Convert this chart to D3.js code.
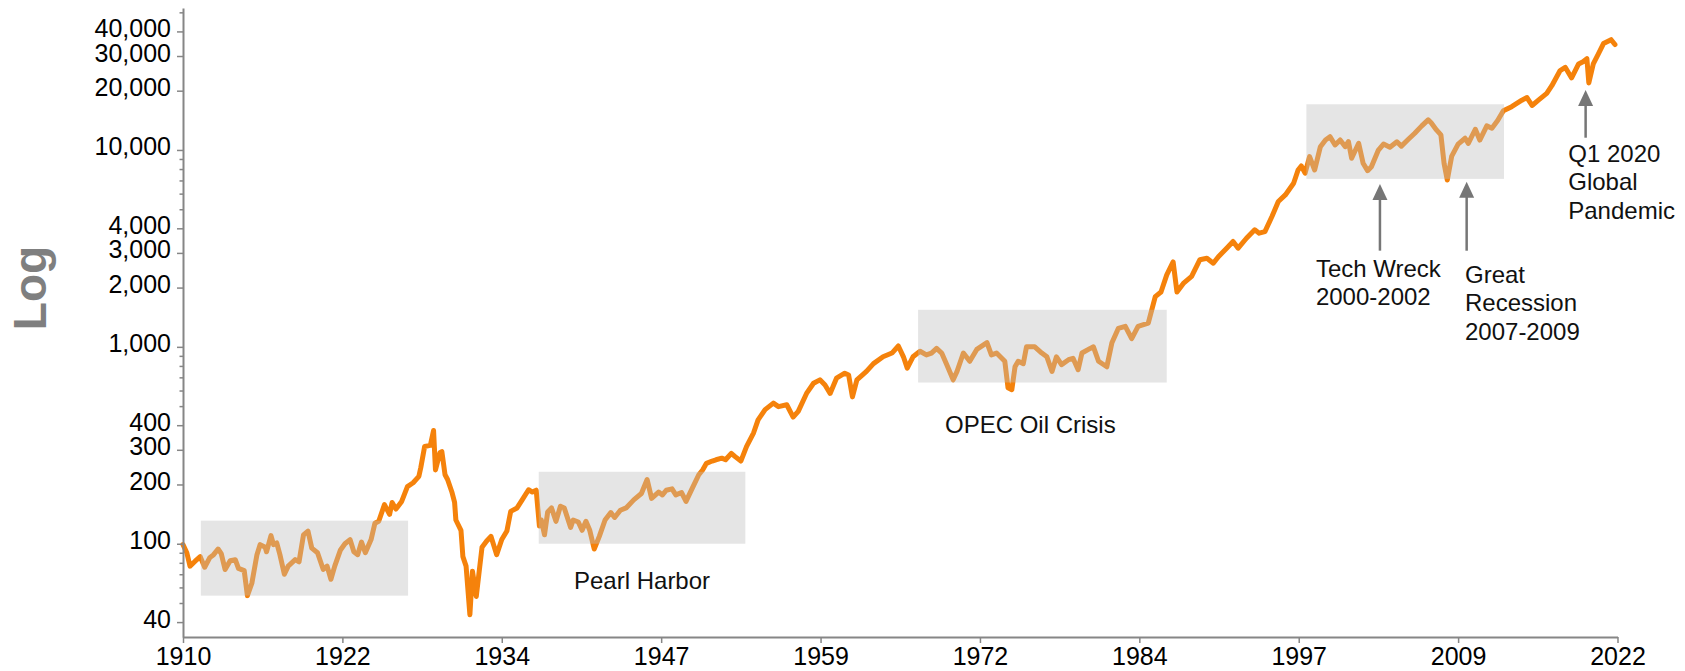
<!DOCTYPE html>
<html>
<head>
<meta charset="utf-8">
<script src="https://cdn.jsdelivr.net/npm/d3@7"></script>
<style>
  html, body { margin: 0; padding: 0; background: #fff; }
  svg { display: block; font-family: "Liberation Sans", Arial, sans-serif; }
</style>
</head>
<body>
<svg id="chart" width="1685" height="671"></svg>
<script>
// index level, [decimal year, value]
const series = [
  [1910.0, 99], [1910.3, 90], [1910.55, 77], [1910.95, 81.5], [1911.35, 86], [1911.7, 76],
  [1912.1, 85], [1912.4, 88], [1912.75, 94], [1913.0, 89], [1913.3, 74], [1913.7, 82],
  [1914.1, 83], [1914.35, 75], [1914.8, 73], [1915.05, 54.5], [1915.4, 63], [1915.8, 88],
  [1916.05, 99], [1916.45, 96], [1916.55, 91], [1916.9, 110], [1917.1, 99], [1917.35, 101],
  [1917.6, 88], [1917.95, 70], [1918.25, 77], [1918.8, 83], [1919.1, 81], [1919.45, 111],
  [1919.8, 116], [1920.1, 95], [1920.55, 90], [1921.0, 74], [1921.3, 77], [1921.6, 66],
  [1921.9, 77], [1922.35, 93], [1922.7, 100], [1923.1, 105], [1923.4, 91], [1923.7, 88],
  [1924.0, 102], [1924.3, 90], [1924.75, 105], [1925.05, 127], [1925.35, 130], [1925.8, 158],
  [1926.2, 141], [1926.4, 162], [1926.7, 150], [1927.15, 164], [1927.6, 195], [1928.05, 204],
  [1928.5, 220], [1928.65, 244], [1928.95, 312], [1929.4, 316], [1929.65, 376], [1929.8, 237],
  [1930.15, 290], [1930.3, 294], [1930.55, 224], [1930.75, 212], [1931.1, 182], [1931.3, 162],
  [1931.4, 132], [1931.8, 117], [1931.95, 86], [1932.2, 77], [1932.5, 43.6], [1932.7, 72.5],
  [1933.0, 54], [1933.45, 96], [1933.8, 103], [1934.15, 109], [1934.6, 88], [1935.0, 105],
  [1935.4, 116], [1935.7, 146], [1936.2, 152], [1936.6, 167], [1937.1, 188], [1937.4, 183],
  [1937.7, 187], [1937.95, 123], [1938.1, 132], [1938.35, 111], [1938.6, 145], [1938.9, 152],
  [1939.25, 130], [1939.6, 155], [1939.9, 152], [1940.4, 121], [1940.6, 132], [1941.0, 129],
  [1941.3, 117], [1941.6, 130], [1941.9, 117], [1942.25, 94], [1942.65, 109], [1943.1, 132],
  [1943.55, 144], [1943.85, 136], [1944.3, 148], [1944.75, 152], [1945.35, 167], [1945.95, 180],
  [1946.4, 212], [1946.75, 170], [1947.3, 183], [1947.6, 177], [1947.9, 187], [1948.35, 190],
  [1948.65, 177], [1949.1, 182], [1949.45, 164], [1950.0, 195], [1950.45, 224], [1950.75, 237],
  [1951.05, 256], [1951.5, 263], [1951.8, 267], [1952.25, 272], [1952.55, 267], [1953.0, 288],
  [1953.3, 277], [1953.75, 263], [1954.2, 312], [1954.75, 366], [1955.1, 426], [1955.65, 480],
  [1956.3, 518], [1956.7, 497], [1957.35, 508], [1957.85, 440], [1958.25, 470], [1958.9, 580],
  [1959.45, 653], [1959.95, 680], [1960.35, 640], [1960.75, 580], [1961.25, 693], [1961.9, 735],
  [1962.2, 720], [1962.5, 557], [1962.85, 680], [1963.6, 750], [1964.15, 822], [1964.9, 890],
  [1965.6, 930], [1966.1, 1010], [1966.5, 890], [1966.8, 780], [1967.25, 890], [1967.8, 950],
  [1968.3, 910], [1968.7, 930], [1969.1, 982], [1969.5, 930], [1969.9, 812], [1970.4, 680],
  [1970.7, 750], [1971.2, 930], [1971.7, 845], [1972.25, 970], [1973.05, 1050], [1973.4, 910],
  [1973.8, 930], [1974.45, 845], [1974.7, 620], [1975.0, 606], [1975.25, 792], [1975.5, 845],
  [1975.9, 822], [1976.15, 1000], [1976.8, 1000], [1977.35, 930], [1977.75, 890], [1978.15, 750],
  [1978.5, 890], [1978.9, 812], [1979.45, 860], [1979.8, 875], [1980.2, 765], [1980.5, 930],
  [1981.15, 982], [1981.4, 1000], [1981.8, 845], [1982.45, 792], [1982.85, 1050], [1983.35, 1240],
  [1983.9, 1270], [1984.4, 1100], [1984.9, 1270], [1985.7, 1320], [1986.25, 1800], [1986.7, 1900],
  [1987.15, 2320], [1987.65, 2700], [1987.95, 1900], [1988.45, 2100], [1989.1, 2280], [1989.75, 2770],
  [1990.3, 2820], [1990.8, 2660], [1991.2, 2870], [1991.85, 3170], [1992.35, 3430], [1992.75, 3170],
  [1993.4, 3560], [1994.05, 3930], [1994.4, 3780], [1994.85, 3850], [1995.4, 4590], [1995.9, 5470],
  [1996.45, 5910], [1997.1, 6770], [1997.45, 7910], [1997.7, 8290], [1998.0, 7620], [1998.35, 9250],
  [1998.75, 7910], [1999.2, 10390], [1999.6, 11240], [1999.95, 11680], [2000.35, 10600], [2000.75, 11240],
  [2001.15, 10390], [2001.4, 11020], [2001.65, 9070], [2002.2, 10810], [2002.55, 8560], [2002.9, 7850],
  [2003.2, 8220], [2003.75, 9990], [2004.15, 10720], [2004.65, 10330], [2005.2, 11010], [2005.55, 10460],
  [2006.1, 11330], [2006.6, 12160], [2007.15, 13250], [2007.65, 14220], [2007.9, 13690], [2008.3, 12640],
  [2008.65, 11930], [2008.9, 8540], [2009.15, 7040], [2009.5, 9310], [2010.0, 10710], [2010.55, 11470],
  [2010.8, 10800], [2011.35, 12740], [2011.7, 11230], [2012.25, 13250], [2012.65, 12900], [2013.1, 14100],
  [2013.55, 15800], [2014.2, 16590], [2015.0, 17900], [2015.4, 18460], [2015.8, 16820], [2016.3, 17900],
  [2016.95, 19380], [2017.35, 21200], [2018.0, 25320], [2018.4, 26280], [2018.9, 23220], [2019.45, 27330],
  [2019.8, 28070], [2020.1, 29100], [2020.25, 21900], [2020.6, 27330], [2021.0, 30750], [2021.4, 34700],
  [2022.0, 36310], [2022.3, 34300]
];

const xTickLabels = ["1910", "1922", "1934", "1947", "1959", "1972", "1984", "1997", "2009", "2022"];
const yTickValues = [40, 100, 200, 300, 400, 1000, 2000, 3000, 4000, 10000, 20000, 30000, 40000];
const yMinorValues = [50, 60, 70, 80, 90, 500, 600, 700, 800, 900, 5000, 6000, 7000, 8000, 9000, 50000];

// shaded periods: years and value band
const highlights = [
  {from: 1911.4, to: 1927.65, lo: 54.5, hi: 131},
  {from: 1937.9, to: 1954.1, lo: 100, hi: 232},
  {from: 1967.65, to: 1987.15, lo: 659, hi: 1542},
  {from: 1998.1, to: 2013.6, lo: 7130, hi: 17060}
];

const notes = [
  {lines: ["Pearl Harbor"], year: 1946.0, value: 59, anchor: "middle"},
  {lines: ["OPEC Oil Crisis"], year: 1976.45, value: 366, anchor: "middle"},
  {lines: ["Tech Wreck", "2000-2002"], year: 1998.85, value: 2271, anchor: "start"},
  {lines: ["Great", "Recession", "2007-2009"], year: 2010.54, value: 2117, anchor: "start"},
  {lines: ["Q1 2020", "Global", "Pandemic"], year: 2018.64, value: 8714, anchor: "start"}
];

const arrows = [
  {year: 2003.87, tip: 6714, tail: 3080},
  {year: 2010.67, tip: 6896, tail: 3078},
  {year: 2020.0, tip: 20150, tail: 11540}
];

const W = 1685, H = 671;
const margin = {top: 8, right: 67.5, bottom: 34, left: 183};
const xDomain = [1910, 2022.5];
const yDomain = [33.6, 52600];

const svg = d3.select("#chart");

const x = d3.scaleLinear().domain(xDomain).range([margin.left, W - margin.right]);
const y = d3.scaleLog().domain(yDomain).range([H - margin.bottom, margin.top]);

drawLine(svg);
drawHighlights(svg);
drawNotes(svg);
drawArrows(svg);
drawAxes(svg);

function drawLine(g) {
  g.append("path")
    .datum(series)
    .attr("fill", "none")
    .attr("stroke", "#f5820b")
    .attr("stroke-width", 5)
    .attr("stroke-linejoin", "round")
    .attr("stroke-linecap", "round")
    .attr("d", d3.line().x(d => x(d[0])).y(d => y(d[1])));
}

function drawHighlights(g) {
  g.append("g")
    .selectAll("rect")
    .data(highlights)
    .join("rect")
    .attr("x", d => x(d.from))
    .attr("y", d => y(d.hi))
    .attr("width", d => x(d.to) - x(d.from))
    .attr("height", d => y(d.lo) - y(d.hi))
    .attr("fill", "#bdbdbd")
    .attr("fill-opacity", 0.4);
}

function drawNotes(g) {
  g.append("g")
    .selectAll("text")
    .data(notes)
    .join("text")
    .attr("x", d => x(d.year))
    .attr("y", d => y(d.value))
    .attr("text-anchor", d => d.anchor)
    .attr("font-size", 24)
    .attr("fill", "#111")
    .each(function (d) {
      d3.select(this).selectAll("tspan")
        .data(d.lines)
        .join("tspan")
        .attr("x", x(d.year))
        .attr("dy", (_, i) => i === 0 ? 0 : 28.7)
        .text(t => t);
    });
}

function drawArrows(g) {
  const a = g.append("g").attr("fill", "#767676").attr("stroke", "#767676");
  a.selectAll("line")
    .data(arrows)
    .join("line")
    .attr("x1", d => x(d.year))
    .attr("x2", d => x(d.year))
    .attr("y1", d => y(d.tail))
    .attr("y2", d => y(d.tip) + 14)
    .attr("stroke-width", 2.5);
  a.selectAll("path")
    .data(arrows)
    .join("path")
    .attr("stroke", "none")
    .attr("d", d => {
      const cx = x(d.year), ty = y(d.tip);
      return `M${cx},${ty} L${cx + 7.5},${ty + 16} L${cx - 7.5},${ty + 16} Z`;
    });
}

function drawAxes(g) {
  const step = (xDomain[1] - xDomain[0]) / (xTickLabels.length - 1);
  const xTicks = xTickLabels.map((_, i) => xDomain[0] + i * step);

  const xAxis = g.append("g")
    .attr("transform", `translate(0,${H - margin.bottom})`)
    .call(d3.axisBottom(x)
      .tickValues(xTicks)
      .tickFormat((_, i) => xTickLabels[i])
      .tickSize(6)
      .tickPadding(4)
      .tickSizeOuter(0));

  const yMinor = g.append("g")
    .attr("transform", `translate(${margin.left},0)`)
    .call(d3.axisLeft(y).tickValues(yMinorValues).tickFormat("").tickSize(3.5).tickSizeOuter(0));
  yMinor.select(".domain").remove();

  const yAxis = g.append("g")
    .attr("transform", `translate(${margin.left},0)`)
    .call(d3.axisLeft(y)
      .tickValues(yTickValues)
      .tickFormat(d3.format(","))
      .tickSize(6)
      .tickPadding(6)
      .tickSizeOuter(0));

  [xAxis, yAxis, yMinor].forEach(ax => {
    ax.selectAll(".domain").attr("stroke", "#868686").attr("stroke-width", 2);
    ax.selectAll(".tick line").attr("stroke", "#868686").attr("stroke-width", 1.5);
    ax.selectAll("text").attr("font-size", 25).attr("fill", "#000")
      .attr("font-family", "'Liberation Sans', Arial, sans-serif");
  });
  yAxis.selectAll("text").attr("dy", "0.2em");

  g.append("text")
    .attr("transform", "translate(46,288) rotate(-90)")
    .attr("text-anchor", "middle")
    .attr("font-size", 46)
    .attr("font-weight", "bold")
    .attr("fill", "#7f7f7f")
    .text("Log");
}
</script>
</body>
</html>
